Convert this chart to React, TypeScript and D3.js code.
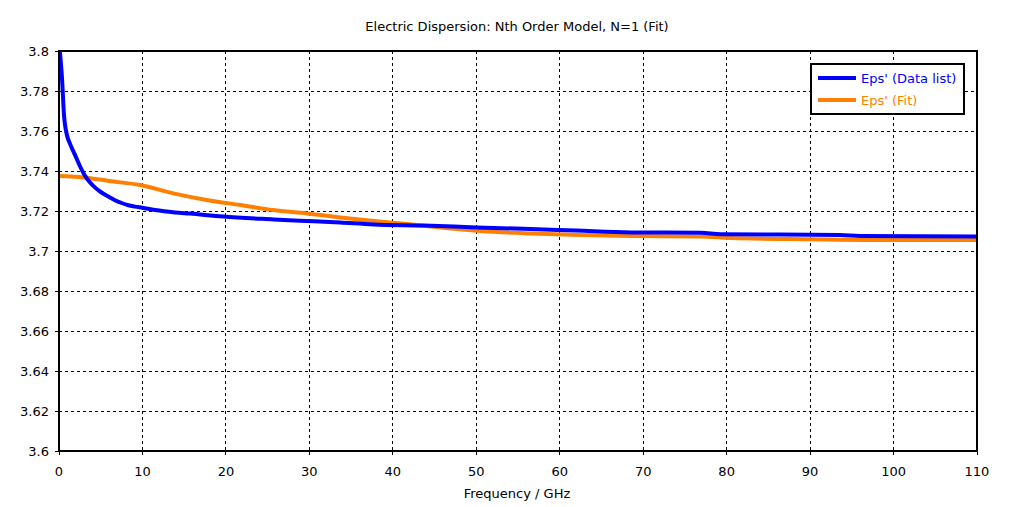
import React from "react";
import * as d3 from "d3";

const title = "Electric Dispersion: Nth Order Model, N=1 (Fit)";
const xLabel = "Frequency / GHz";
const xTicks = [0, 10, 20, 30, 40, 50, 60, 70, 80, 90, 100, 110];
const yTicks = [3.6, 3.62, 3.64, 3.66, 3.68, 3.7, 3.72, 3.74, 3.76, 3.78, 3.8];

const dataFreq = [0.1, 0.35, 0.6, 0.95, 1.3, 1.9, 2.5, 3.1, 3.7, 4.3, 5.0, 5.9, 6.7, 7.5, 8.3, 9.1, 10, 11.5, 13.9, 15.7, 19.7, 25.7, 29.7, 33.7, 37.7, 43.7, 50, 56.5, 62, 68.5, 76.9, 79.3, 93.6, 96, 110];
const dataEps = [3.8, 3.787, 3.768, 3.758, 3.7538, 3.7482, 3.7425, 3.7377, 3.7344, 3.7318, 3.7295, 3.7272, 3.7254, 3.724, 3.7229, 3.7222, 3.7216, 3.7205, 3.7193, 3.7187, 3.7172, 3.7158, 3.715, 3.7142, 3.7133, 3.7127, 3.7118, 3.711, 3.7102, 3.7093, 3.7091, 3.7084, 3.708, 3.7075, 3.7072];

const fitFreq = [0, 3, 6, 9.7, 13.7, 17.7, 21.7, 25.7, 29.7, 33.7, 37.7, 41.7, 45.7, 50.5, 56.5, 62.5, 68.5, 76.9, 80.5, 90, 100, 110];
const fitEps = [3.7375, 3.7368, 3.735, 3.733, 3.7288, 3.7255, 3.723, 3.7205, 3.7188, 3.7168, 3.715, 3.7135, 3.7117, 3.71, 3.7088, 3.708, 3.7075, 3.7072, 3.7065, 3.7059, 3.7055, 3.7055];

const legendItems = ["Eps' (Data list)", "Eps' (Fit)"];
const colors = ["#0000ff", "#ff8000"];

const W = 1012, H = 507;
const L = 59, R = 977, T = 51, B = 451;
const font = "Tahoma, 'DejaVu Sans', sans-serif";

export default function App() {
  const x = d3.scaleLinear().domain([0, 110]).range([L, R]);
  const y = d3.scaleLinear().domain([3.6, 3.8]).range([B, T]);
  const line = d3.line<[number, number]>().x(d => x(d[0])).y(d => y(d[1])).curve(d3.curveMonotoneX);
  const blue = line(dataFreq.map((f, i) => [f, dataEps[i]]) as [number, number][]) || "";
  const orange = line(fitFreq.map((f, i) => [f, fitEps[i]]) as [number, number][]) || "";

  return (
    <svg width={W} height={H} style={{ position: "absolute", left: 0, top: 0 }} fontFamily={font}>
      <rect x={0} y={0} width={W} height={H} fill="#fff" />
      <text x={517} y={31} textAnchor="middle" fontSize={13} fill="#000">{title}</text>
      <defs>
        <clipPath id="plot"><rect x={L} y={T} width={R - L} height={B - T} /></clipPath>
      </defs>
      {xTicks.slice(1, -1).map(t => (
        <line key={"gx" + t} x1={x(t)} x2={x(t)} y1={T} y2={B} stroke="#000" strokeDasharray="3,3" shapeRendering="crispEdges" />
      ))}
      {yTicks.slice(1, -1).map(t => (
        <line key={"gy" + t} x1={L} x2={R} y1={y(t)} y2={y(t)} stroke="#000" strokeDasharray="3,3" shapeRendering="crispEdges" />
      ))}
      <g clipPath="url(#plot)">
        <path d={orange} fill="none" stroke={colors[1]} strokeWidth={4} />
        <path d={blue} fill="none" stroke={colors[0]} strokeWidth={4} />
      </g>
      <rect x={L} y={T} width={R - L} height={B - T} fill="none" stroke="#000" strokeWidth={1.5} shapeRendering="crispEdges" />
      {xTicks.map(t => (
        <g key={"xt" + t}>
          <line x1={x(t)} x2={x(t)} y1={B} y2={B + 4} stroke="#000" shapeRendering="crispEdges" />
          <text x={x(t)} y={476} textAnchor="middle" fontSize={13}>{t}</text>
        </g>
      ))}
      {yTicks.map(t => (
        <g key={"yt" + t}>
          <line x1={L - 4} x2={L} y1={y(t)} y2={y(t)} stroke="#000" shapeRendering="crispEdges" />
          <text x={49} y={y(t) + 5} textAnchor="end" fontSize={13}>{d3.format("~g")(t)}</text>
        </g>
      ))}
      <text x={517} y={498} textAnchor="middle" fontSize={13}>{xLabel}</text>
      <rect x={811} y={64} width={153} height={50} fill="#fff" stroke="#000" strokeWidth={2} />
      {legendItems.map((s, i) => (
        <g key={s}>
          <line x1={818} x2={856} y1={78 + i * 22} y2={78 + i * 22} stroke={colors[i]} strokeWidth={4} />
          <text x={861} y={83 + i * 22} fontSize={13} fill={colors[i]}>{s}</text>
        </g>
      ))}
    </svg>
  );
}
